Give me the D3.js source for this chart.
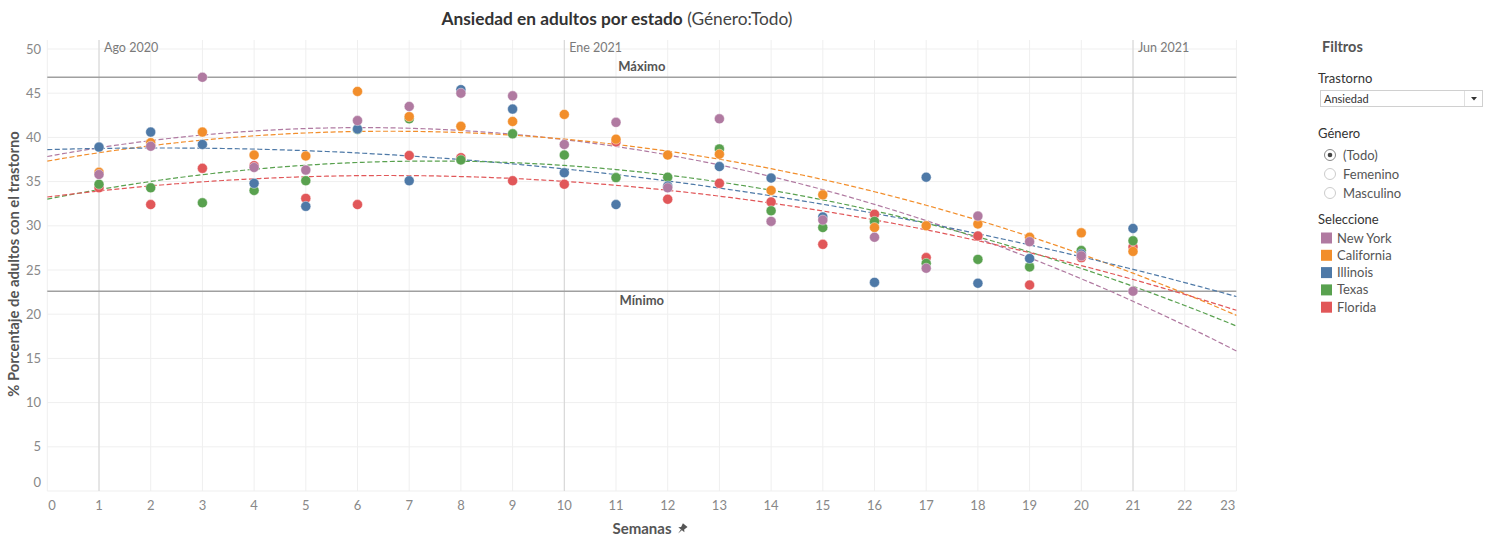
<!DOCTYPE html>
<html><head><meta charset="utf-8">
<script src="https://cdn.jsdelivr.net/npm/d3@7"></script>
<style>
body{margin:0;background:#fff;}
svg{font-family:Lato,"Noto Sans",sans-serif;}
</style></head>
<body><svg id="c" width="1491" height="536"></svg>
<script>
const weeks = [1,2,3,4,5,6,7,8,9,10,11,12,13,14,15,16,17,18,19,20,21];
const xTicks = d3.range(0,24);
const yTicks = [0,5,10,15,20,25,30,35,40,45,50];
const states = ["New York","California","Illinois","Texas","Florida"];
const colors = ["#b07aa1","#f28e2b","#4e79a7","#59a14f","#e15759"];
const newYork    = [35.8,39.0,46.8,36.6,36.3,41.9,43.5,45.0,44.7,39.2,41.7,34.3,42.1,30.5,30.65,28.7,25.2,31.1,28.2,26.6,22.6];
const california = [36.05,39.4,40.6,38.0,37.9,45.2,42.35,41.25,41.8,42.6,39.8,38.0,38.1,34.0,33.5,29.8,30.0,30.2,28.7,29.2,27.1];
const illinois   = [38.9,40.6,39.2,34.8,32.2,40.95,35.1,45.4,43.2,36.0,32.4,34.5,36.7,35.4,31.0,23.6,35.5,23.5,26.3,26.8,29.7];
const texas      = [34.7,34.3,32.6,34.0,35.1,40.9,42.1,37.45,40.4,38.0,35.45,35.5,38.7,31.7,29.8,30.5,25.75,26.2,25.35,27.2,28.3];
const florida    = [34.3,32.4,36.5,36.8,33.1,32.4,37.95,37.7,35.1,34.7,39.5,33.0,34.8,32.7,27.9,31.3,26.4,28.85,23.3,26.4,27.6];
const seriesValues = [newYork,california,illinois,texas,florida];
const dateMarks = [1,10,21];
const dateLabels = ["Ago 2020","Ene 2021","Jun 2021"];
const generoOptions = ["(Todo)","Femenino","Masculino"];

const svg = d3.select("#c");
const x = d3.scaleLinear().domain([0,23]).range([47.3,1236.4]);
const y = d3.scaleLinear().domain([0,50]).range([491,49]);
const plotTop = 40;

const g = svg.append("g");
g.selectAll(".vg").data(xTicks).join("line")
 .attr("x1",d=>x(d)).attr("x2",d=>x(d)).attr("y1",plotTop).attr("y2",y(0))
 .attr("stroke","#efefef").attr("stroke-width",1);
g.selectAll(".hg").data(yTicks).join("line")
 .attr("x1",x(0)).attr("x2",x(23)).attr("y1",d=>y(d)).attr("y2",d=>y(d))
 .attr("stroke","#efefef").attr("stroke-width",1);

g.selectAll(".dl").data(dateMarks).join("line")
 .attr("x1",d=>x(d)).attr("x2",d=>x(d)).attr("y1",plotTop).attr("y2",y(0))
 .attr("stroke","#d4d4d4").attr("stroke-width",1);
g.selectAll(".dt").data(dateMarks).join("text")
 .attr("x",d=>x(d)+5).attr("y",52).text((d,i)=>dateLabels[i])
 .attr("fill","#7a7a7a").attr("font-size",12.5);

const allVals = seriesValues.flat().filter(v=>v!=null);
const vMax = d3.max(allVals), vMin = d3.min(allVals);
[[vMax,"Máximo",-6],[vMin,"Mínimo",14]].forEach(([v,lab,dy])=>{
  svg.append("line").attr("x1",x(0)).attr("x2",x(23)).attr("y1",y(v)).attr("y2",y(v))
   .attr("stroke","#a0a0a0").attr("stroke-width",1.5);
  svg.append("text").attr("x",(x(0)+x(23))/2).attr("y",y(v)+dy).attr("text-anchor","middle")
   .attr("font-weight","bold").attr("font-size",13).attr("fill","#555").text(lab);
});

svg.append("g").selectAll("text").data(yTicks).join("text")
 .attr("x",41).attr("y",d=>Math.min(y(d),482)).attr("dy","0.35em").attr("text-anchor","end")
 .attr("fill","#888").attr("font-size",13).text(d=>d);
svg.append("g").selectAll("text").data(xTicks).join("text")
 .attr("x",d=>d===0?x(d)+1:(d===23?x(d)-1:x(d))).attr("y",505).attr("dy","0.35em")
 .attr("text-anchor",d=>d===0?"start":(d===23?"end":"middle"))
 .attr("fill","#888").attr("font-size",13).text(d=>d);

svg.append("text").attr("transform","translate(19,264) rotate(-90)").attr("text-anchor","middle")
 .attr("font-weight","bold").attr("font-size",14.8).attr("fill","#555").text("% Porcentaje de adultos con el trastorno");
svg.append("text").attr("x",642).attr("y",534).attr("text-anchor","middle")
 .attr("font-weight","bold").attr("font-size",15).attr("fill","#555").text("Semanas");
svg.append("path").attr("transform","translate(682,529) rotate(40)")
 .attr("d","M-3,-5 L3,-5 L2,-1 L4,1 L-4,1 L-2,-1 Z M-0.6,1 L0.6,1 L0,6 Z").attr("fill","#555");

const t = svg.append("text").attr("x",617).attr("y",25).attr("text-anchor","middle").attr("font-size",17.3).attr("fill","#333");
t.append("tspan").attr("font-weight","bold").text("Ansiedad en adultos por estado");
t.append("tspan").attr("fill","#444").text(" (Género:Todo)");

function polyfit(xs, ys, deg){
  const n = deg+1;
  const A = Array.from({length:n},()=>new Array(n+1).fill(0));
  xs.forEach((xv,i)=>{
    for(let r=0;r<n;r++){
      for(let c=0;c<n;c++) A[r][c]+=Math.pow(xv,r+c);
      A[r][n]+=ys[i]*Math.pow(xv,r);
    }
  });
  for(let i=0;i<n;i++){
    let p=i; for(let r=i+1;r<n;r++) if(Math.abs(A[r][i])>Math.abs(A[p][i])) p=r;
    [A[i],A[p]]=[A[p],A[i]];
    for(let r=0;r<n;r++){ if(r===i) continue; const f=A[r][i]/A[i][i];
      for(let c=i;c<=n;c++) A[r][c]-=f*A[i][c]; }
  }
  return A.map((row,i)=>row[n]/row[i]);
}
const lineGen = d3.line().x(d=>x(d[0])).y(d=>y(d[1]));
const xs = d3.range(0,23.001,0.1);
const trendG = svg.append("g");
seriesValues.forEach((vals,si)=>{
  const pts = weeks.map((w,i)=>[w,vals[i]]).filter(p=>p[1]!=null);
  const co = polyfit(pts.map(p=>p[0]), pts.map(p=>p[1]), 2);
  const curve = xs.map(xv=>[xv, co.reduce((s,c,k)=>s+c*Math.pow(xv,k),0)]);
  trendG.append("path").attr("d",lineGen(curve)).attr("fill","none")
   .attr("stroke",colors[si]).attr("stroke-width",1.2).attr("stroke-dasharray","5,2.5");
});

const ptG = svg.append("g");
for(let si=seriesValues.length-1; si>=0; si--){
  const pts = weeks.map((w,i)=>[w,seriesValues[si][i]]).filter(p=>p[1]!=null);
  ptG.append("g").selectAll("circle").data(pts).join("circle")
   .attr("cx",d=>x(d[0])).attr("cy",d=>y(d[1])).attr("r",5)
   .attr("fill",colors[si]).attr("stroke","#fff").attr("stroke-width",0.6).attr("stroke-opacity",0.7);
}

const P = svg.append("g").attr("fill","#333");
P.append("text").attr("x",1322).attr("y",52).attr("font-weight","bold").attr("font-size",14.5).attr("fill","#555").text("Filtros");
P.append("text").attr("x",1318).attr("y",83).attr("font-size",13).text("Trastorno");
P.append("rect").attr("x",1320.5).attr("y",90.5).attr("width",162).attr("height",16).attr("fill","#fff").attr("stroke","#d0d0d0");
P.append("line").attr("x1",1464.5).attr("x2",1464.5).attr("y1",91).attr("y2",106).attr("stroke","#e0e0e0");
P.append("text").attr("x",1324).attr("y",102.5).attr("font-size",11).attr("fill","#333").text("Ansiedad");
P.append("path").attr("d","M1471,97 L1477,97 L1474,100.5 Z").attr("fill","#333");
P.append("text").attr("x",1318).attr("y",138).attr("font-size",13).text("Género");
generoOptions.forEach((o,i)=>{
  const yy = 155 + i*19;
  P.append("circle").attr("cx",1330).attr("cy",yy).attr("r",5.5).attr("fill","#fff").attr("stroke",i===0?"#888":"#ccc");
  if(i===0) P.append("circle").attr("cx",1330).attr("cy",yy).attr("r",2.3).attr("fill","#444");
  P.append("text").attr("x",1343).attr("y",yy).attr("dy","0.35em").attr("font-size",13).attr("fill","#555").text(o);
});
P.append("text").attr("x",1318).attr("y",224).attr("font-size",13).text("Seleccione");
states.forEach((s,i)=>{
  const yy = 238 + i*17.3;
  P.append("rect").attr("x",1321).attr("y",yy-5.5).attr("width",11).attr("height",11).attr("fill",colors[i]);
  P.append("text").attr("x",1337).attr("y",yy).attr("dy","0.35em").attr("font-size",13).attr("fill","#555").text(s);
});
</script></body></html>
